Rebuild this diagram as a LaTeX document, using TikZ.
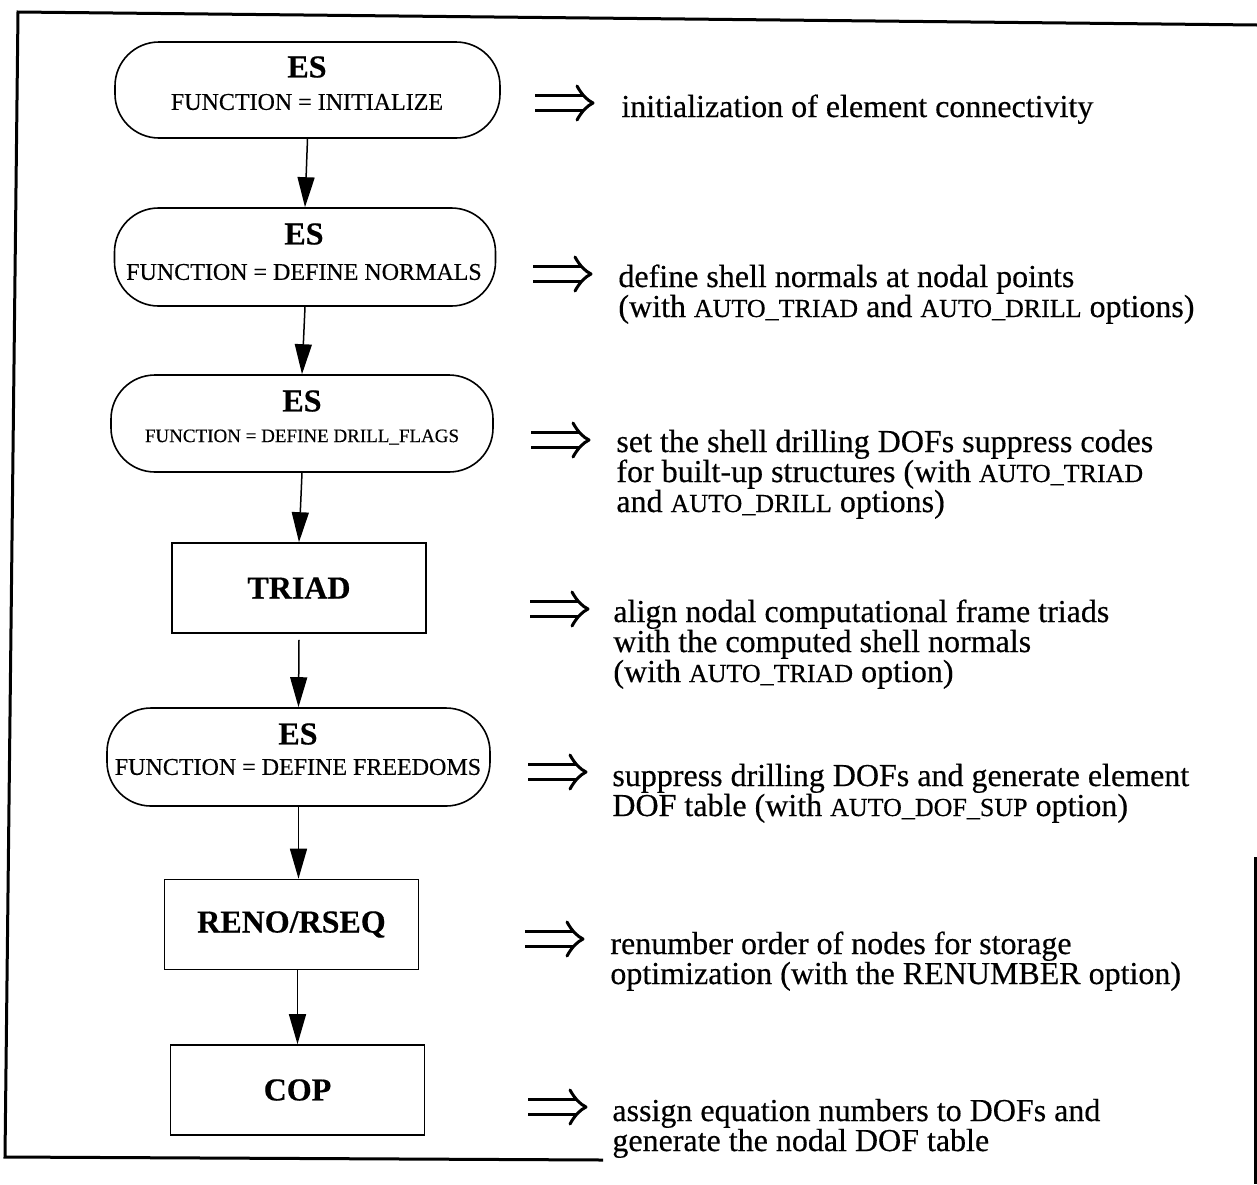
\documentclass[tikz,border=0pt]{standalone}
\usepackage{fontspec}
\setmainfont{Liberation Serif}[FakeBold=0.4]
\usetikzlibrary{arrows.meta}

% option keywords are set in smaller capitals
\newcommand\optname[1]{{\fontsize{13pt}{15pt}\selectfont #1}}

\begin{document}
\begin{tikzpicture}[x=0.5pt,y=-0.5pt,
  stadium/.style={draw, line width=0.8pt, rounded corners=22pt, inner sep=0pt},
  proc/.style={draw, line width=0.8pt, inner sep=0pt, minimum width=127pt, minimum height=45pt,
               font=\bfseries\fontsize{16pt}{16pt}\selectfont},
  esname/.style={font=\bfseries\fontsize{16pt}{16pt}\selectfont, inner sep=0pt},
  fnline/.style={font=\fontsize{12pt}{12pt}\selectfont, inner sep=0pt},
  fnsmall/.style={font=\fontsize{9.5pt}{9.5pt}\selectfont, inner sep=0pt},
  flow/.style={line width=0.75pt, -{Triangle[length=15pt,width=8.5pt]}},
  desc/.style={font=\fontsize{16pt}{15pt}\selectfont, align=left, inner sep=0pt, anchor=base west},
  frame/.style={line width=1.5pt},
  dblarrow/.pic={
    \draw[line width=1.7pt] (-27,-7.5) -- (22,-7.5) (-27,7.5) -- (22,7.5);
    \draw[line width=1.5pt, line cap=round, line join=round]
      (15,-17) .. controls (20,-8) and (25,-3) .. (31,0)
               .. controls (25,3) and (20,8) .. (15,17);
  },
]
\useasboundingbox (0,0) rectangle (1257,1184);

% outer frame
\coordinate (ftl) at (18,12);
\coordinate (ftr) at (1257,25);
\coordinate (fbl) at (5,1157);
\coordinate (fbm) at (603,1160);
\coordinate (fra) at (1255,857);
\coordinate (frb) at (1255,1184);
\draw[frame] (ftr) -- (ftl) -- (fbl) -- (fbm);
\draw[frame] (fra) -- (frb);

% process chain
\node[stadium, minimum width=192.5pt, minimum height=48pt] (es1) at (307.5,90) {};
\node[esname] (es1t) at (307,67) {ES};
\node[fnline] (es1f) at (307,102) {FUNCTION = INITIALIZE};

\node[stadium, minimum width=190.5pt, minimum height=49pt] (es2) at (305,257) {};
\node[esname] (es2t) at (304,234) {ES};
\node[fnline] (es2f) at (304,272) {FUNCTION = DEFINE NORMALS};

\node[stadium, minimum width=191pt, minimum height=48.5pt] (es3) at (302,423.5) {};
\node[esname] (es3t) at (302,401) {ES};
\node[fnsmall] (es3f) at (302,437) {FUNCTION = DEFINE DRILL\_FLAGS};

\node[proc] (triad) at (299,588) {TRIAD};

\node[stadium, minimum width=191.5pt, minimum height=49pt] (es4) at (298.5,757) {};
\node[esname] (es4t) at (298,734) {ES};
\node[fnline] (es4f) at (298,767) {FUNCTION = DEFINE FREEDOMS};

\node[proc] (reno) at (291.5,924.5) {RENO/RSEQ};
\node[proc] (cop) at (297.5,1090) {COP};

\draw[flow] (es1.south) -- (es2.north);
\draw[flow] (es2.south) -- (es3.north);
\draw[flow] (es3.south) -- (triad.north);
\draw[flow] ([yshift=-3pt]triad.south) -- (es4.north);
\draw[flow] (es4.south) -- (es4.south |- reno.north);
\draw[flow] (reno.south -| cop.north) -- (cop.north);

% what each step does
\pic (d1) at (562,103) {dblarrow};
\pic (d2) at (560,274) {dblarrow};
\pic (d3) at (558,440) {dblarrow};
\pic (d4) at (557,609) {dblarrow};
\pic (d5) at (555,772) {dblarrow};
\pic (d6) at (552,939) {dblarrow};
\pic (d7) at (555,1107) {dblarrow};

\node[desc] (t1) at (621,117) {initialization of element connectivity};
\node[desc] (t2) at (618,317) {define shell normals at nodal points\\
  (with \optname{AUTO\_TRIAD} and \optname{AUTO\_DRILL} options)};
\node[desc] (t3) at (616,512) {set the shell drilling DOFs suppress codes\\
  for built-up structures (with \optname{AUTO\_TRIAD}\\
  and \optname{AUTO\_DRILL} options)};
\node[desc] (t4) at (613,682) {align nodal computational frame triads\\
  with the computed shell normals\\
  (with \optname{AUTO\_TRIAD} option)};
\node[desc] (t5) at (612,816) {suppress drilling DOFs and generate element\\
  DOF table (with \optname{AUTO\_DOF\_SUP} option)};
\node[desc] (t6) at (610,984) {renumber order of nodes for storage\\
  optimization (with the RENUMBER option)};
\node[desc] (t7) at (612,1151) {assign equation numbers to DOFs and\\
  generate the nodal DOF table};
\end{tikzpicture}
\end{document}
